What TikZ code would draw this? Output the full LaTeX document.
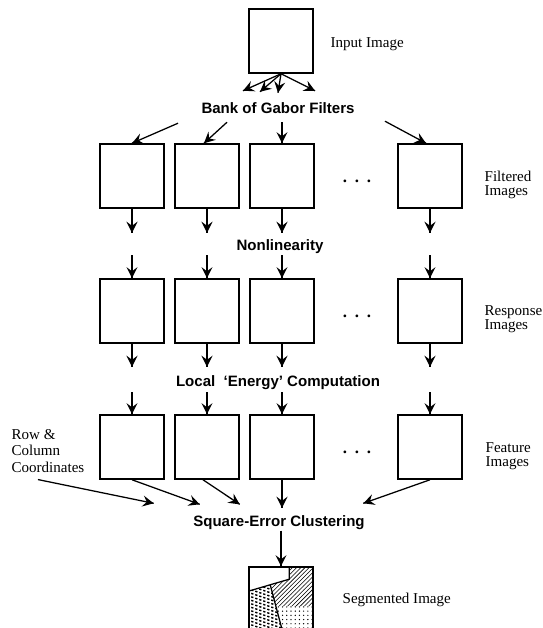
\documentclass[tikz,border=0pt]{standalone}
\usepackage{fontspec}
\setmainfont{Liberation Serif}
\setsansfont{Liberation Sans}
\usepackage{tikz}
\tikzset{->/.style = {decoration={markings, mark=at position 1 with {\arrow[scale=1.8]{stealth}}}, postaction={decorate}}}
\tikzset{img/.style = {draw, line width=1.1pt, minimum width=1.6cm, minimum height=1.6cm, inner sep=0pt},
         stage/.style = {font=\fontsize{10.7}{12}\sffamily\bfseries, inner sep=0pt},
         lbl/.style = {font={\fontsize{10.7}{10}\selectfont\lineskiplimit=-10pt\relax}, align=left, anchor=west, inner sep=0pt},
         etc/.style = {font=\fontsize{12}{12}\selectfont\bfseries, inner sep=0pt}}
\usetikzlibrary{patterns,
                 decorations.markings}

\begin{document}
\begin{tikzpicture}[line width=0.9pt]
\useasboundingbox (0,0) rectangle (13.575,15.7);
\clip (0,0) rectangle (13.575,15.7);
\node[img] (input) at (7.025,14.675) {};
\node[lbl] (inlbl) at (8.25,14.6) {Input Image};
\node[stage] (gabor) at (6.95,13.0) {Bank of Gabor Filters};
\draw [->] (input.south) -- ++(-0.95,-0.425);
\draw [->] (input.south) -- ++(-0.525,-0.45);
\draw [->] (input.south) -- ++(-0.075,-0.475);
\draw [->] (input.south) -- ++(0.85,-0.425);
\foreach \x [count=\i] in {3.3,5.175,7.05,10.75} {
  \node[img] (f\i) at (\x,11.3) {};
  \node[img] (r\i) at (\x,7.925) {};
  \node[img] (b\i) at (\x,4.525) {};
}
\foreach \y [count=\i] in {11.16,7.79,4.39}
  \node[etc] (dots\i) at (8.925,\y) {.\hspace{5.5pt}.\hspace{5.5pt}.};
\node[lbl] (filt) at (12.1,11.075) {Filtered\\Images};
\node[lbl] (resp) at (12.1,7.725) {Response\\Images};
\node[lbl] (feat) at (12.125,4.3) {Feature\\Images};
\node[lbl, font=\fontsize{10.7}{12}\selectfont] (rc) at (0.275,4.425) {Row \&\\Column\\Coordinates};
\node[stage] (nonlin) at (7.0,9.525) {Nonlinearity};
\node[stage] (energy) at (6.95,6.125) {Local\hspace{3pt} `Energy' Computation};
\node[stage] (sqerr) at (6.975,2.625) {Square-Error Clustering};
\draw [->] ([shift={(1.15,0.5)}]f1.north) -- (f1.north);
\draw [->] ([shift={(0.5,0.525)}]f2.north) -- ([xshift=-0.075cm]f2.north);
\draw [->] ([yshift=0.525cm]f3.north) -- (f3.north);
\draw [->] ([shift={(-1.125,0.55)}]f4.north) -- ([xshift=-0.1cm]f4.north);
\foreach \i in {1,...,4} {
  \draw [->] (f\i.south) -- ++(0,-0.6);
  \draw [->] ([yshift=0.575cm]r\i.north) -- (r\i.north);
  \draw [->] (r\i.south) -- ++(0,-0.575);
  \draw [->] ([yshift=0.55cm]b\i.north) -- (b\i.north);
}
\draw [->] ([shift={(-0.25,-0.15)}]rc.south) -- ([shift={(-0.975,0.3)}]sqerr.north west);
\draw [->] (b1.south) -- ([shift={(0.175,0.275)}]sqerr.north west);
\draw [->] ([xshift=-0.1cm]b2.south) -- ([shift={(1.175,0.275)}]sqerr.north west);
\draw [->] (b3.south) -- ++(0,-0.7);
\draw [->] (b4.south) -- ([shift={(-0.05,0.3)}]sqerr.north east);
\node[img] (seg) at (7.025,0.725) {};
\node[lbl] (seglbl) at (8.55,0.7) {Segmented Image};
\draw [->] (seg.north |- sqerr.south) -- (seg.north);
\begin{scope}[shift={(seg.north west)}, x=0.025cm, y=-0.025cm]
\fill[pattern=north east lines] (41,13) -- (41,0) -- (64,0) -- (64,40) -- (27.5,40) -- (22,18.6) -- cycle;
\fill[pattern=dots] (27.5,40) -- (64,40) -- (64,64) -- (34,64) -- cycle;
\begin{scope}
\clip (0,25) -- (22,18.6) -- (34,64) -- (0,64) -- cycle;
\foreach \k in {0,...,20}
  \draw[line width=1pt, dash pattern=on 1.6pt off 1.4pt] (-5,3.5*\k) -- ++(45,15);
\end{scope}
\draw (0,25) -- (41,13) -- (41,0);
\draw (22,18.6) -- (34,64);
\end{scope}
\end{tikzpicture}
\end{document}
